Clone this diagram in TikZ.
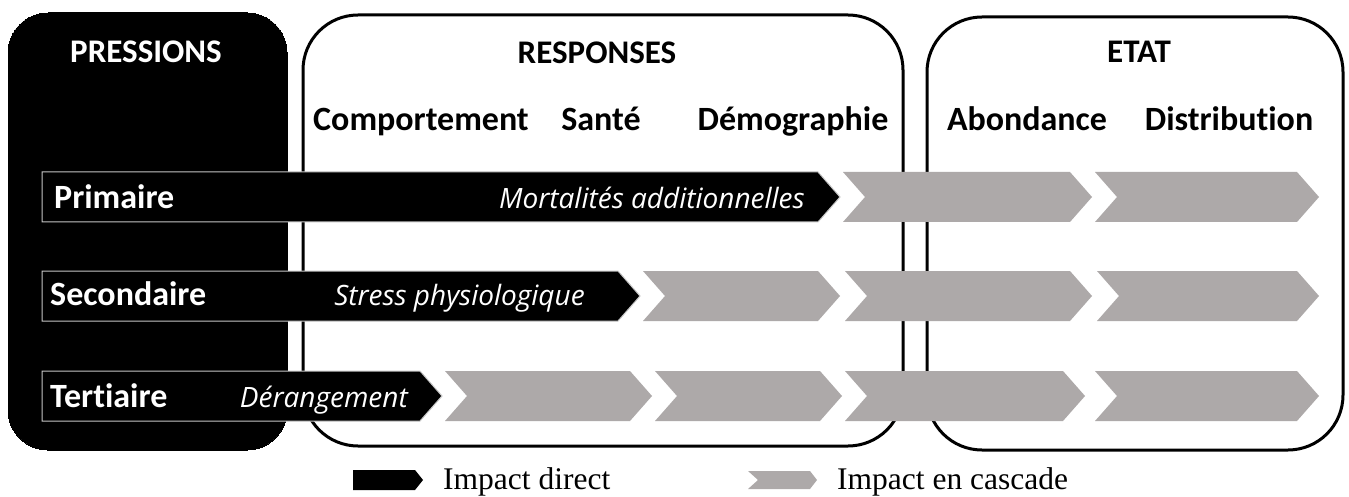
\documentclass[tikz,border=0pt]{standalone}
\usepackage{fontspec}
\setmainfont{Liberation Serif}
\newfontfamily\headfont[Ligatures={NoCommon,NoRare}]{Carlito}
\newfontfamily\effectfont{Open Sans}
\usepackage{xcolor}
\usetikzlibrary{positioning}

\definecolor{cascadegray}{RGB}{173,169,169}

\begin{document}
\begin{tikzpicture}[
  x=1pt, y=-1pt,
  panel/.style={draw, line width=3pt, rounded corners=55pt, fill=white, inner sep=0pt},
  head/.style={font=\headfont\bfseries\fontsize{33}{36}\selectfont, anchor=base, inner sep=0pt},
  sub/.style={font=\headfont\bfseries\fontsize{34}{36}\selectfont, anchor=base, inner sep=0pt},
  level/.style={font=\headfont\bfseries\fontsize{34}{36}\selectfont, text=white, anchor=base west, inner sep=0pt},
  effect/.style={font=\effectfont\itshape\fontsize{28}{30}\selectfont, text=white, anchor=base east, inner sep=0pt},
  direct/.style={fill=black, draw=gray!45, line width=1pt},
  cascade/.style={fill=cascadegray},
  legend/.style={font=\fontsize{31.5}{34}\selectfont, anchor=base west, inner sep=0pt}
]
  \useasboundingbox (0,0) rectangle (1349,497);

  % panels
  \node[panel, fill=black, draw=black, line width=0pt, rounded corners=40pt,
        minimum width=279pt, minimum height=437pt] (press) at (147.5,231.5) {};
  \node[panel, minimum width=600pt, minimum height=431pt] (resp) at (603,230.5) {};
  \node[panel, minimum width=416pt, minimum height=433pt] (etat) at (1135,233.5) {};

  \node[head, text=white] (pressions) at (146,63) {PRESSIONS};
  \node[head] (responses) at (597,64) {RESPONSES};
  \node[head] (etattitle) at (1139,63) {ETAT};

  \node[sub] (comportement) at (421,131) {Comportement};
  \node[sub] (sante) at (601,131) {Santé};
  \node[sub] (demographie) at (793,131) {Démographie};
  \node[sub] (abondance) at (1027,131) {Abondance};
  \node[sub] (distribution) at (1229,131) {Distribution};

  % cascade chevrons
  \foreach \a/\b/\y in {843/1070/197, 1095/1297/197,
                        643/818/296, 845/1070/296, 1097/1297/296,
                        445/630/396, 655/820/396, 845/1063/396, 1095/1297/396}
    \fill[cascade] (\a,\y-25) -- (\b,\y-25) -- (\b+22,\y) -- (\b,\y+25)
      -- (\a,\y+25) -- (\a+22,\y) -- cycle;

  % direct arrows
  \foreach \b/\y in {818/197, 618/296, 420/396}
    \filldraw[direct] (42,\y-25) -- (\b,\y-25) -- (\b+22,\y) -- (\b,\y+25)
      -- (42,\y+25) -- cycle;

  \node[level] (primaire) at (54,208.5) {Primaire};
  \node[level] (secondaire) at (50,305) {Secondaire};
  \node[level] (tertiaire) at (50,407) {Tertiaire};

  \node[effect] (mortalites) at (805,208.5) {Mortalités additionnelles};
  \node[effect] (stress) at (585,305) {Stress physiologique};
  \node[effect] (derangement) at (408,407) {Dérangement};

  % legend
  \fill (353,470) -- (415,470) -- (423,480) -- (415,490) -- (353,490) -- cycle;
  \node[legend] (directtxt) at (443,489) {Impact direct};
  \fill[cascade] (748,471) -- (810,471) -- (817,480) -- (810,489) -- (748,489)
    -- (758,480) -- cycle;
  \node[legend] (cascadetxt) at (837,489) {Impact en cascade};
\end{tikzpicture}
\end{document}
